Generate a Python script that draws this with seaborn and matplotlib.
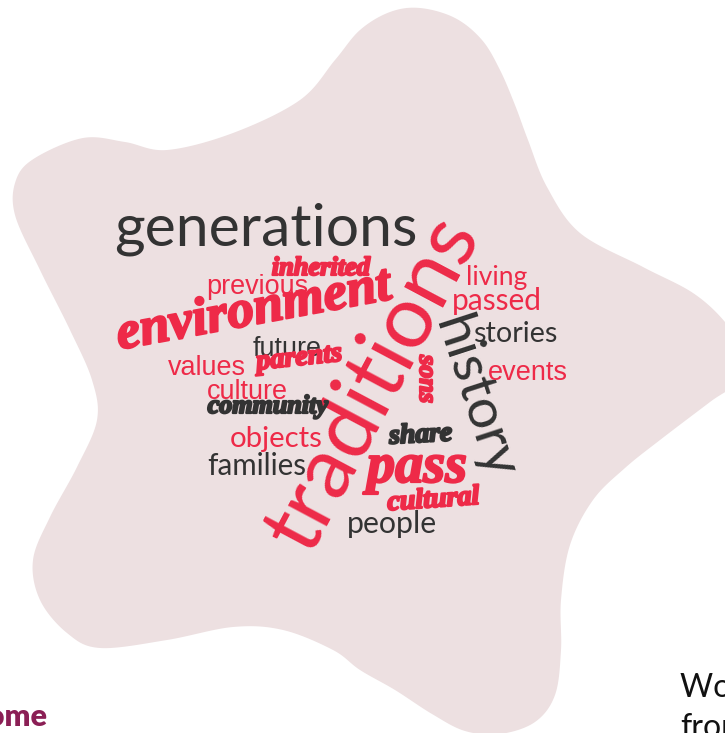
import numpy as np
import matplotlib
matplotlib.use("Agg")
import matplotlib.pyplot as plt
import matplotlib.patheffects as pe
import seaborn as sns
from matplotlib.patches import Polygon

# words of the cloud, their colour group and typeface group
words = ["generations", "traditions", "history", "environment", "pass",
         "inherited", "previous", "future", "values", "parents", "culture",
         "community", "objects", "families", "share", "cultural", "people",
         "living", "passed", "stories", "events", "sons"]
tones = ["dark", "red", "dark", "red", "red",
         "red", "red", "dark", "red", "red", "red",
         "dark", "red", "dark", "dark", "red", "dark",
         "red", "red", "dark", "red", "red"]
faces = ["thin", "thin", "thin", "script", "script",
         "script", "sans", "sans", "sans", "script", "sans",
         "script", "thin", "thin", "script", "script", "thin",
         "thin", "thin", "thin", "sans", "script"]

# layout of the cloud: baseline centre (px), word length (px), angle
layout = {
    "generations": (266, 246, 303, 0),
    "traditions": (395, 395, 365, 62),
    "history": (460, 402, 168, -72),
    "environment": (256, 324, 278, 10.5),
    "pass": (417, 482, 100, 0),
    "inherited": (321, 275, 98, 0),
    "previous": (257, 294, 102, 0),
    "future": (287, 356, 69, 0),
    "values": (207, 375, 78, 0),
    "parents": (300, 365, 86, 6),
    "culture": (247, 399, 81, 0),
    "community": (268, 413, 120, 0),
    "objects": (276, 447, 93, 0),
    "families": (257, 475, 99, 0),
    "share": (421, 442, 63, 3),
    "cultural": (434, 507, 92, 4),
    "people": (392, 533, 90, 0),
    "living": (497, 285, 61, 0),
    "passed": (497, 310, 90, 0),
    "stories": (515, 342, 84, 0),
    "events": (528, 380, 80, 0),
    "sons": (420, 379, 48, -90),
}

# outline of the background blob (px)
blob = [(360, 30), (390, 12), (420, 8), (455, 18), (482, 40), (500, 70), (515, 105),
        (528, 140), (547, 187), (580, 233), (643, 267), (693, 293), (725, 322),
        (743, 352), (735, 383), (710, 402), (660, 440), (625, 468), (593, 500),
        (570, 545), (561, 600), (561, 650), (555, 695), (535, 722), (500, 734),
        (465, 731), (432, 714), (395, 690), (360, 670), (333, 650), (283, 630),
        (233, 627), (167, 640), (100, 648), (67, 633), (40, 600), (33, 560),
        (50, 517), (77, 467), (97, 420), (92, 380), (70, 330), (40, 270),
        (15, 215), (16, 180), (35, 158), (83, 138), (125, 142), (167, 150),
        (233, 133), (300, 100), (335, 60)]

palette = {"red": "#ee2a48", "dark": "#333333"}
fonts = {
    "thin": dict(family=["Lato", "DejaVu Sans"], weight="normal"),
    "sans": dict(family=["Liberation Sans", "DejaVu Sans"], weight="normal"),
    "script": dict(family=["Liberation Serif", "DejaVu Serif"], weight="bold", style="italic"),
}


def smooth_closed(pts, n=24):
    pts = np.asarray(pts, float)
    N = len(pts)
    t = np.linspace(0, 1, n, endpoint=False)[:, None]
    out = []
    for i in range(N):
        p0, p1, p2, p3 = pts[i - 1], pts[i], pts[(i + 1) % N], pts[(i + 2) % N]
        out.append(0.5 * (2 * p1 + (-p0 + p2) * t
                          + (2 * p0 - 5 * p1 + 4 * p2 - p3) * t ** 2
                          + (-p0 + 3 * p1 - 3 * p2 + p3) * t ** 3))
    return np.vstack(out)


sns.set_theme(style="white")
plt.rcParams["font.family"] = ["Lato", "DejaVu Sans"]

fig = plt.figure(figsize=(7.25, 7.33), dpi=100)
ax = fig.add_axes([0, 0, 1, 1])
ax.set_xlim(0, 725)
ax.set_ylim(733, 0)
ax.axis("off")

ax.add_patch(Polygon(smooth_closed(blob), closed=True, facecolor="#ede0e1",
                     edgecolor="none", zorder=0))

fig.canvas.draw()
renderer = fig.canvas.get_renderer()
for w, tone, face in zip(words, tones, faces):
    x, y, length, angle = layout[w]
    t = ax.text(x, y, w, fontsize=40, color=palette[tone], ha="center",
                va="baseline", rotation_mode="anchor", zorder=2, **fonts[face])
    width = t.get_window_extent(renderer).width
    t.set_fontsize(40 * length / width)
    t.set_rotation(angle)
    if face == "script":
        # heavier strokes, closer to the brush lettering
        t.set_path_effects([pe.withStroke(linewidth=1.6, foreground=palette[tone])])

# cut-off slide texts at the edges
ax.text(48, 726, "Welcome", ha="right", va="baseline", fontsize=22,
        color="#8b1f55", fontweight="heavy", family=["Lato", "DejaVu Sans"])
ax.text(680, 697, "Word cloud", ha="left", va="baseline", fontsize=23,
        color="#111111", family=["Lato", "DejaVu Sans"])
ax.text(680, 737, "from", ha="left", va="baseline", fontsize=23,
        color="#111111", family=["Lato", "DejaVu Sans"])

fig.savefig("out.png", dpi=100)
